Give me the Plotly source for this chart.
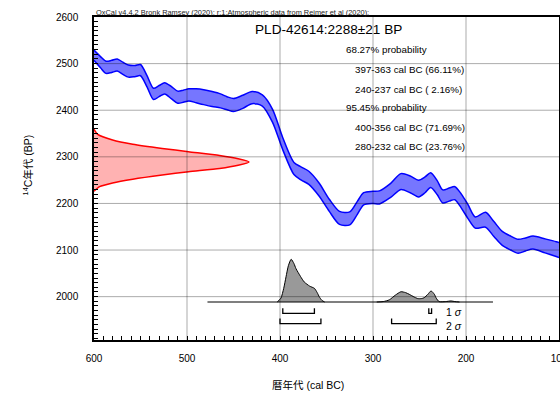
import plotly.graph_objects as go

# Calibration curve (IntCal20 section): cal BC, 14C BP centre, 1-sigma half width
cal_bc = [600, 593, 587, 581, 575, 569, 563, 556, 550, 543, 536, 530, 524, 517, 510, 504, 498, 490, 482, 473, 464, 457, 450, 440,
          430, 419, 408, 397, 385, 377, 369, 358, 347, 336, 325, 317, 310, 300, 293, 281, 270, 260, 251, 244, 238, 231, 225, 218,
          212, 205, 198, 190, 179, 170, 161, 152, 144, 136, 128, 115, 103, 100]
cal_bp = [2518, 2503, 2492, 2494, 2497, 2490, 2484, 2484, 2486, 2462, 2435, 2441, 2447, 2438, 2428, 2430, 2433, 2431, 2428, 2424, 2420, 2415, 2411, 2418,
          2427, 2421, 2388, 2328, 2275, 2264, 2255, 2230, 2196, 2169, 2168, 2190, 2210, 2213, 2213, 2228, 2247, 2241, 2232, 2240, 2250, 2234, 2215, 2219,
          2222, 2205, 2183, 2159, 2165, 2145, 2125, 2115, 2108, 2112, 2116, 2109, 2102, 2100]
cal_err = [11, 12, 13, 13, 13, 13, 13, 12, 12, 12, 12, 12, 12, 13, 13, 13, 13, 15, 16, 16, 15, 14, 14, 14,
           13, 12, 14, 13, 13, 14, 14, 14, 13, 14, 14, 14, 13, 13, 14, 15, 17, 18, 18, 17, 16, 15, 14, 14,
           14, 15, 15, 12, 16, 16, 15, 15, 15, 14, 14, 15, 16, 16]

meas_bp = [2359, 2348, 2336, 2327, 2318, 2311, 2303, 2296, 2289, 2282, 2275, 2268, 2261, 2252, 2244, 2236, 2226]
meas_density = [0.0, 0.024, 0.12, 0.25, 0.44, 0.61, 0.81, 0.93, 1.0, 0.93, 0.81, 0.61, 0.44, 0.25, 0.12, 0.036, 0.0]

# Calibrated probability distribution (relative density)
post1_bc = [403, 399, 396, 393.5, 391, 388, 385, 382.8, 378, 374, 368, 363, 360, 357.7, 355, 352]
post1_density = [0.0, 0.09, 0.32, 0.59, 0.85, 1.0, 0.9, 0.78, 0.6, 0.47, 0.37, 0.32, 0.22, 0.12, 0.04, 0.0]
post2_bc = [296, 289, 282.5, 276, 270, 265, 261, 256, 252, 248, 245, 241, 237.6, 234, 232, 229, 222, 216, 212, 207]
post2_density = [0.0, 0.01, 0.05, 0.16, 0.24, 0.22, 0.18, 0.12, 0.08, 0.08, 0.1, 0.18, 0.26, 0.18, 0.09, 0.01, 0.01, 0.025, 0.01, 0.0]
baseline_bc = [478, 171]

# Highest posterior density ranges (cal BC)
sigma1_ranges = [(397, 363), (240, 237)]
sigma2_ranges = [(400, 356), (280, 232)]

# axis ticks
x_grid = [500, 400, 300, 200]
y_grid = [2000, 2100, 2200, 2300, 2400, 2500]

title_text = "PLD-42614:2288±21 BP"
header_text = "OxCal v4.4.2 Bronk Ramsey (2020); r:1;Atmospheric data from Reimer et al (2020);"
prob_lines = [
    ("68.27% probability", 331, 2530),
    ("397-363 cal BC (66.11%)", 321, 2487),
    ("240-237 cal BC ( 2.16%)", 321, 2444),
    ("95.45% probability", 331, 2405),
    ("400-356 cal BC (71.69%)", 321, 2362),
    ("280-232 cal BC (23.76%)", 321, 2322),
]
x_title = "暦年代 (cal BC)"
y_title = "<sup>14</sup>C年代 (BP)"

FONT = "Liberation Sans, Arial, Noto Sans CJK JP, sans-serif"

fig = go.Figure()

# calibration curve band
upper = [b + e for b, e in zip(cal_bp, cal_err)]
lower = [b - e for b, e in zip(cal_bp, cal_err)]
fig.add_trace(go.Scatter(x=cal_bc, y=upper, mode="lines", line=dict(color="#0000ff", width=1.5, shape="spline", smoothing=0.8),
                         hoverinfo="skip", showlegend=False))
fig.add_trace(go.Scatter(x=cal_bc, y=lower, mode="lines", line=dict(color="#0000ff", width=1.5, shape="spline", smoothing=0.8),
                         fill="tonexty", fillcolor="rgba(118,118,255,1)", hoverinfo="skip", showlegend=False))

# measured date on the y axis
fig.add_trace(go.Scatter(x=meas_density, y=meas_bp, xaxis="x2", yaxis="y", mode="lines", fill="toself",
                         fillcolor="rgba(255,178,178,1)", line=dict(color="#ff0000", width=1.5, shape="spline", smoothing=0.6),
                         hoverinfo="skip", showlegend=False))

# calibrated distribution
for xs, ds in [(post1_bc, post1_density), (post2_bc, post2_density)]:
    fig.add_trace(go.Scatter(x=xs, y=ds, xaxis="x", yaxis="y2", mode="lines", fill="toself",
                             fillcolor="#999999", line=dict(color="black", width=1, shape="spline", smoothing=0.6),
                             hoverinfo="skip", showlegend=False))
fig.add_trace(go.Scatter(x=baseline_bc, y=[0, 0], xaxis="x", yaxis="y2", mode="lines",
                         line=dict(color="black", width=1.2), hoverinfo="skip", showlegend=False))

# range brackets
for ranges, top, bot in [(sigma1_ranges, 1975, 1964), (sigma2_ranges, 1953, 1942)]:
    for a, b in ranges:
        fig.add_trace(go.Scatter(x=[a, a, b, b], y=[top, bot, bot, top], mode="lines",
                                 line=dict(color="black", width=1.3), hoverinfo="skip", showlegend=False))

# grid lines drawn over the fills (semi-transparent, as in OxCal)
shapes = []
for gx in x_grid:
    shapes.append(dict(type="line", xref="x", yref="paper", x0=gx, x1=gx, y0=0, y1=1, layer="above",
                       line=dict(color="rgba(0,0,0,0.33)", width=1)))
for gy in y_grid:
    shapes.append(dict(type="line", xref="paper", yref="y", x0=0, x1=1, y0=gy, y1=gy, layer="above",
                       line=dict(color="rgba(0,0,0,0.33)", width=1)))

ann = []
ann.append(dict(text=header_text, x=0, y=1, xref="paper", yref="paper", xanchor="left", yanchor="bottom",
                yshift=-2, showarrow=False, font=dict(size=7.4, family=FONT, color="#222")))
ann.append(dict(text=title_text, x=348, y=2573, xref="x", yref="y", xanchor="center", yanchor="middle",
                showarrow=False, font=dict(size=13.6, family=FONT, color="black")))
for t, xx, yy in prob_lines:
    ann.append(dict(text=t, x=xx, y=yy, xref="x", yref="y", xanchor="left", yanchor="middle",
                    showarrow=False, font=dict(size=9.8, family=FONT, color="black")))
ann.append(dict(text="1 <i>σ</i>", x=224, y=1968, xref="x", yref="y", xanchor="left", yanchor="middle",
                showarrow=False, font=dict(size=10.5, family=FONT, color="black")))
ann.append(dict(text="2 <i>σ</i>", x=224, y=1937, xref="x", yref="y", xanchor="left", yanchor="middle",
                showarrow=False, font=dict(size=10.5, family=FONT, color="black")))
ann.append(dict(text=x_title, x=0.46, y=-0.139, xref="paper", yref="paper", xanchor="center", yanchor="middle",
                showarrow=False, font=dict(size=10.5, family=FONT, color="black")))
ann.append(dict(text=y_title, x=-0.143, y=0.542, xref="paper", yref="paper", xanchor="center", yanchor="middle",
                textangle=-90, showarrow=False, font=dict(size=10.5, family=FONT, color="black")))

fig.update_layout(
    width=560, height=396,
    margin=dict(l=94, r=1, t=17, b=56, autoexpand=False),
    paper_bgcolor="white", plot_bgcolor="white",
    font=dict(family=FONT, size=10, color="black"),
    showlegend=False,
    annotations=ann,
    shapes=shapes,
    xaxis=dict(range=[600, 100], dtick=100, tick0=0, ticks="inside", ticklen=4, tickcolor="black",
               showgrid=False, zeroline=False, automargin=False,
               showline=True, linecolor="black", linewidth=1.5, mirror=True,
               minor=dict(dtick=10, ticks="inside", ticklen=4, tickcolor="black", showgrid=False),
               ticklabelstandoff=8, ticklabeloverflow="allow", tickfont=dict(size=10)),
    yaxis=dict(range=[1907, 2600], dtick=100, tick0=0, ticks="inside", ticklen=4, tickcolor="black",
               showgrid=False, zeroline=False, automargin=False,
               showline=True, linecolor="black", linewidth=1.5, mirror=True,
               minor=dict(dtick=10, ticks="inside", ticklen=4, tickcolor="black", showgrid=False),
               ticklabelstandoff=12, ticklabeloverflow="allow", tickfont=dict(size=10)),
    xaxis2=dict(overlaying="x", anchor="y", range=[0, 3], visible=False),
    yaxis2=dict(overlaying="y", anchor="x", range=[-0.889, 6.67], visible=False),
)

fig.write_html("out.html", config={"displayModeBar": False},
               post_script="document.body.style.margin='0';document.body.style.overflow='hidden';")
